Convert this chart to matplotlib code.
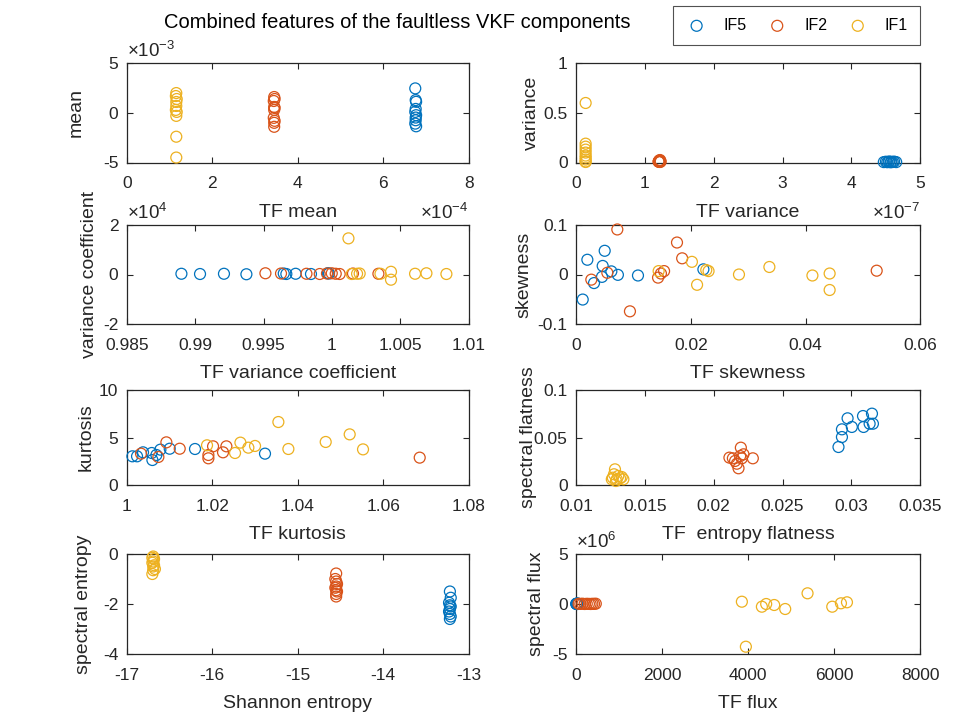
import matplotlib.pyplot as plt

plt.rcParams['font.family'] = ['Liberation Sans', 'DejaVu Sans']
plt.rcParams['mathtext.fontset'] = 'custom'
plt.rcParams['mathtext.rm'] = 'Liberation Sans'
plt.rcParams['axes.unicode_minus'] = False

# series names and MATLAB default colours
names = ['IF5', 'IF2', 'IF1']
colors = ['#0072BD', '#D95319', '#EDB120']

# mean (y in 1e-3)
tf_mean_if5 = [6.75, 6.76, 6.77, 6.76, 6.75, 6.77, 6.76, 6.76, 6.75, 6.77]
mean_if5 = [2.47, 1.29, 1.12, 0.4, 0.1, -0.23, -0.47, -0.74, -1.08, -1.35]
tf_mean_if2 = [3.45, 3.46, 3.44, 3.45, 3.46, 3.45, 3.44, 3.46, 3.45, 3.45]
mean_if2 = [1.6, 1.4, 1.2, 0.6, 0.5, 0.3, -0.5, -0.8, -1.0, -1.4]
tf_mean_if1 = [1.16, 1.15, 1.17, 1.16, 1.16, 1.15, 1.17, 1.16, 1.16, 1.16]
mean_if1 = [2.0, 1.7, 1.4, 1.1, 0.7, 0.3, 0.1, -0.3, -2.4, -4.5]

# variance
tf_var_if5 = [4.47, 4.50, 4.52, 4.54, 4.55, 4.57, 4.58, 4.60, 4.62, 4.65]
var_if5 = [0.004, 0.008, 0.003, 0.006, 0.01, 0.002, 0.007, 0.005, 0.009, 0.004]
tf_var_if2 = [1.20, 1.21, 1.22, 1.21, 1.23, 1.22, 1.20, 1.21, 1.22, 1.21]
var_if2 = [0.01, 0.02, 0.005, 0.015, 0.01, 0.025, 0.008, 0.012, 0.018, 0.006]
tf_var_if1 = [0.14, 0.14, 0.14, 0.14, 0.14, 0.14, 0.14, 0.14, 0.14, 0.14]
var_if1 = [0.60, 0.19, 0.16, 0.13, 0.10, 0.07, 0.05, 0.03, 0.01, 0.005]

# variance coefficient (y in 1e4)
tf_vc_if5 = [0.98900, 0.99036, 0.99211, 0.99375, 0.99648, 0.99667, 0.99735, 0.99847, 0.99970, 0.99979]
vc_if5 = [0.03, 0.02, 0.03, 0.01, 0.04, 0.02, 0.03, 0.02, 0.05, 0.04]
tf_vc_if2 = [0.99514, 0.99628, 0.99814, 0.99911, 0.99964, 0.99999, 1.00028, 1.00057, 1.00154, 1.00340]
vc_if2 = [0.05, 0.04, 0.03, 0.02, 0.04, 0.05, 0.03, 0.02, 0.04, 0.03]
tf_vc_if1 = [1.00121, 1.00145, 1.00184, 1.00203, 1.00355, 1.00432, 1.00432, 1.00608, 1.00691, 1.00837]
vc_if1 = [1.46, 0.02, 0.03, 0.04, 0.03, 0.11, -0.21, 0.03, 0.05, 0.02]

# skewness (y in 1e-7)
tf_sk_if5 = [0.00117, 0.00198, 0.00314, 0.00453, 0.00465, 0.0050, 0.00616, 0.0073, 0.0108, 0.0222]
sk_if5 = [-0.0506, 0.0298, -0.0173, -0.0048, 0.0173, 0.0479, 0.0063, -0.0007, -0.002, 0.0104]
tf_sk_if2 = [0.0072, 0.00267, 0.00546, 0.0094, 0.0143, 0.01535, 0.0148, 0.0176, 0.0185, 0.0524]
sk_if2 = [0.091, -0.0104, 0.0035, -0.0744, -0.0063, 0.0069, 0.002, 0.0646, 0.0327, 0.0077]
tf_sk_if1 = [0.0144, 0.0202, 0.0211, 0.0227, 0.0231, 0.0284, 0.0337, 0.0412, 0.0442, 0.0442]
sk_if1 = [0.0069, 0.0256, -0.0208, 0.009, 0.0069, 0.0, 0.0152, -0.002, 0.002, -0.0313]

# kurtosis
tf_ku_if5 = [1.00133, 1.00242, 1.00382, 1.00585, 1.00601, 1.00694, 1.00788, 1.01006, 1.01598, 1.03235]
ku_if5 = [3.02, 3.02, 3.44, 3.37, 2.63, 3.16, 3.72, 3.82, 3.79, 3.30]
tf_ku_if2 = [1.00335, 1.00741, 1.00928, 1.0124, 1.01911, 1.01911, 1.0202, 1.02253, 1.02332, 1.06854]
ku_if2 = [3.30, 2.95, 4.49, 3.82, 3.16, 2.81, 4.07, 3.44, 4.07, 2.88]
tf_ku_if1 = [1.01879, 1.02534, 1.0266, 1.02846, 1.03002, 1.03548, 1.03782, 1.04655, 1.05216, 1.05528]
ku_if1 = [4.18, 3.37, 4.46, 3.93, 4.11, 6.63, 3.79, 4.53, 5.33, 3.75]

# spectral flatness
tf_fl_if5 = [0.02906, 0.02931, 0.02931, 0.02972, 0.03003, 0.03084, 0.03088, 0.03132, 0.03149, 0.03156]
fl_if5 = [0.040, 0.0505, 0.0586, 0.0702, 0.0611, 0.0726, 0.0611, 0.0645, 0.0751, 0.0645]
tf_fl_if2 = [0.02139, 0.02168, 0.0218, 0.02197, 0.02204, 0.02216, 0.02284, 0.02155, 0.02114, 0.02192]
fl_if2 = [0.0281, 0.0224, 0.0176, 0.0393, 0.0281, 0.0323, 0.0281, 0.0253, 0.0288, 0.0305]
tf_fl_if1 = [0.01283, 0.01276, 0.01307, 0.01267, 0.0132, 0.01296, 0.01344, 0.0126, 0.0129, 0.01332]
fl_if1 = [0.0165, 0.0113, 0.0095, 0.0077, 0.0070, 0.006, 0.006, 0.006, 0.0042, 0.0084]

# spectral entropy
sh_if5 = [-13.22, -13.21, -13.23, -13.22, -13.21, -13.22, -13.23, -13.22, -13.21, -13.22]
se_if5 = [-1.5, -1.75, -1.95, -2.05, -2.1, -2.2, -2.3, -2.4, -2.5, -2.6]
sh_if2 = [-14.55, -14.56, -14.55, -14.54, -14.55, -14.56, -14.55, -14.54, -14.55, -14.55]
se_if2 = [-0.78, -1.0, -1.1, -1.2, -1.3, -1.35, -1.45, -1.5, -1.6, -1.7]
sh_if1 = [-16.69, -16.70, -16.68, -16.69, -16.70, -16.68, -16.69, -16.67, -16.69, -16.70]
se_if1 = [-0.1, -0.15, -0.2, -0.3, -0.35, -0.45, -0.5, -0.6, -0.65, -0.8]

# spectral flux (y in 1e6)
tf_fx_if5 = [5, 10, 15, 20, 25, 30, 35, 40, 45, 55]
fx_if5 = [0.02, 0.01, 0.03, 0.0, 0.02, 0.01, 0.0, 0.02, 0.01, 0.03]
tf_fx_if2 = [60, 100, 150, 200, 250, 300, 340, 380, 420, 460]
fx_if2 = [0.02, 0.01, 0.03, 0.0, 0.02, 0.01, 0.0, 0.02, 0.01, 0.03]
tf_fx_if1 = [3854, 3947, 4319, 4419, 4605, 4861, 5380, 5954, 6156, 6296]
fx_if1 = [0.23, -4.27, -0.27, 0.0, -0.1, -0.5, 1.07, -0.27, 0.07, 0.17]

panels = [
    ([tf_mean_if5, tf_mean_if2, tf_mean_if1], [mean_if5, mean_if2, mean_if1],
     'TF mean', 'mean', (0, 8), [0, 2, 4, 6, 8], (-5, 5), [-5, 0, 5]),
    ([tf_var_if5, tf_var_if2, tf_var_if1], [var_if5, var_if2, var_if1],
     'TF variance', 'variance', (0, 5), [0, 1, 2, 3, 4, 5], (0, 1), [0, 0.5, 1]),
    ([tf_vc_if5, tf_vc_if2, tf_vc_if1], [vc_if5, vc_if2, vc_if1],
     'TF variance coefficient', 'variance coefficient', (0.985, 1.01),
     [0.985, 0.99, 0.995, 1, 1.005, 1.01], (-2, 2), [-2, 0, 2]),
    ([tf_sk_if5, tf_sk_if2, tf_sk_if1], [sk_if5, sk_if2, sk_if1],
     'TF skewness', 'skewness', (0, 0.06), [0, 0.02, 0.04, 0.06], (-0.1, 0.1), [-0.1, 0, 0.1]),
    ([tf_ku_if5, tf_ku_if2, tf_ku_if1], [ku_if5, ku_if2, ku_if1],
     'TF kurtosis', 'kurtosis', (1, 1.08), [1, 1.02, 1.04, 1.06, 1.08], (0, 10), [0, 5, 10]),
    ([tf_fl_if5, tf_fl_if2, tf_fl_if1], [fl_if5, fl_if2, fl_if1],
     'TF  entropy flatness', 'spectral flatness', (0.01, 0.035),
     [0.01, 0.015, 0.02, 0.025, 0.03, 0.035], (0, 0.1), [0, 0.05, 0.1]),
    ([sh_if5, sh_if2, sh_if1], [se_if5, se_if2, se_if1],
     'Shannon entropy', 'spectral entropy', (-17, -13), [-17, -16, -15, -14, -13], (-4, 0), [-4, -2, 0]),
    ([tf_fx_if5, tf_fx_if2, tf_fx_if1], [fx_if5, fx_if2, fx_if1],
     'TF flux', 'spectral flux', (0, 8000), [0, 2000, 4000, 6000, 8000], (-5, 5), [-5, 0, 5]),
]

# exponent labels: (panel index, power, side)
exponents = [(0, -3, 'left'), (2, 4, 'left'), (2, -4, 'right'), (3, -7, 'right'), (7, 6, 'left')]

W, H = 974, 720
cols = [(126.7, 468.7), (576, 920.3)]
rows = [(63.3, 162.5), (225, 324), (390, 485), (554, 654)]
ylabel_x = [75, 530, 88, 522, 85, 527, 82, 535]  # centre of y label, px
ink = '#262626'

fig = plt.figure(figsize=(W / 100, H / 100), dpi=100)
axes = []
for i, (xs, ys, xl, yl, xlim, xt, ylim, yt) in enumerate(panels):
    x0, x1 = cols[i % 2]
    t, b = rows[i // 2]
    ax = fig.add_axes([x0 / W, 1 - b / H, (x1 - x0) / W, (b - t) / H])
    for k in range(3):
        ax.scatter(xs[k], ys[k], s=62, facecolors='none', edgecolors=colors[k],
                   linewidths=0.9, label=names[k], clip_on=False, zorder=3)
    ax.set_xlim(xlim)
    ax.set_ylim(ylim)
    ax.set_xticks(xt)
    ax.set_yticks(yt)
    ax.set_xticklabels(['%g' % v for v in xt])
    ax.set_yticklabels(['%g' % v for v in yt])
    ax.tick_params(direction='in', top=True, right=True, length=4, width=0.8,
                   labelsize=12.5, colors=ink)
    ax.tick_params(axis='x', pad=10)
    ax.tick_params(axis='y', pad=6)
    for sp in ax.spines.values():
        sp.set_color(ink)
        sp.set_linewidth(0.9)
    ax.set_xlabel(xl, fontsize=14, color=ink, labelpad=9)
    ax.set_ylabel(yl, fontsize=14, color=ink)
    ax.yaxis.set_label_coords((ylabel_x[i] + 10 - x0) / (x1 - x0), 0.5)
    axes.append(ax)

for idx, p, side in exponents:
    ax = axes[idx]
    txt = r'$\mathregular{\times 10^{%d}}$' % p
    xpos, ha = (0.0, 'left') if side == 'left' else (1.0, 'right')
    ax.text(xpos, 1.02, txt, transform=ax.transAxes, ha=ha, va='bottom',
            fontsize=13.5, color=ink)

fig.text(397 / W, 1 - 22 / H, 'Combined features of the faultless VKF components',
         ha='center', va='center', fontsize=14.5, color='black')

handles, labels = axes[0].get_legend_handles_labels()
leg = fig.legend(handles, labels, loc='upper right', bbox_to_anchor=(920 / W, 1 - 6 / H),
                 borderaxespad=0, ncol=3, fontsize=11.5, frameon=True, fancybox=False,
                 edgecolor='#262626', handletextpad=1.0, columnspacing=1.2,
                 borderpad=0.75, handlelength=1.4, scatterpoints=1)
leg.get_frame().set_linewidth(0.8)

fig.savefig('out.png', dpi=100)
